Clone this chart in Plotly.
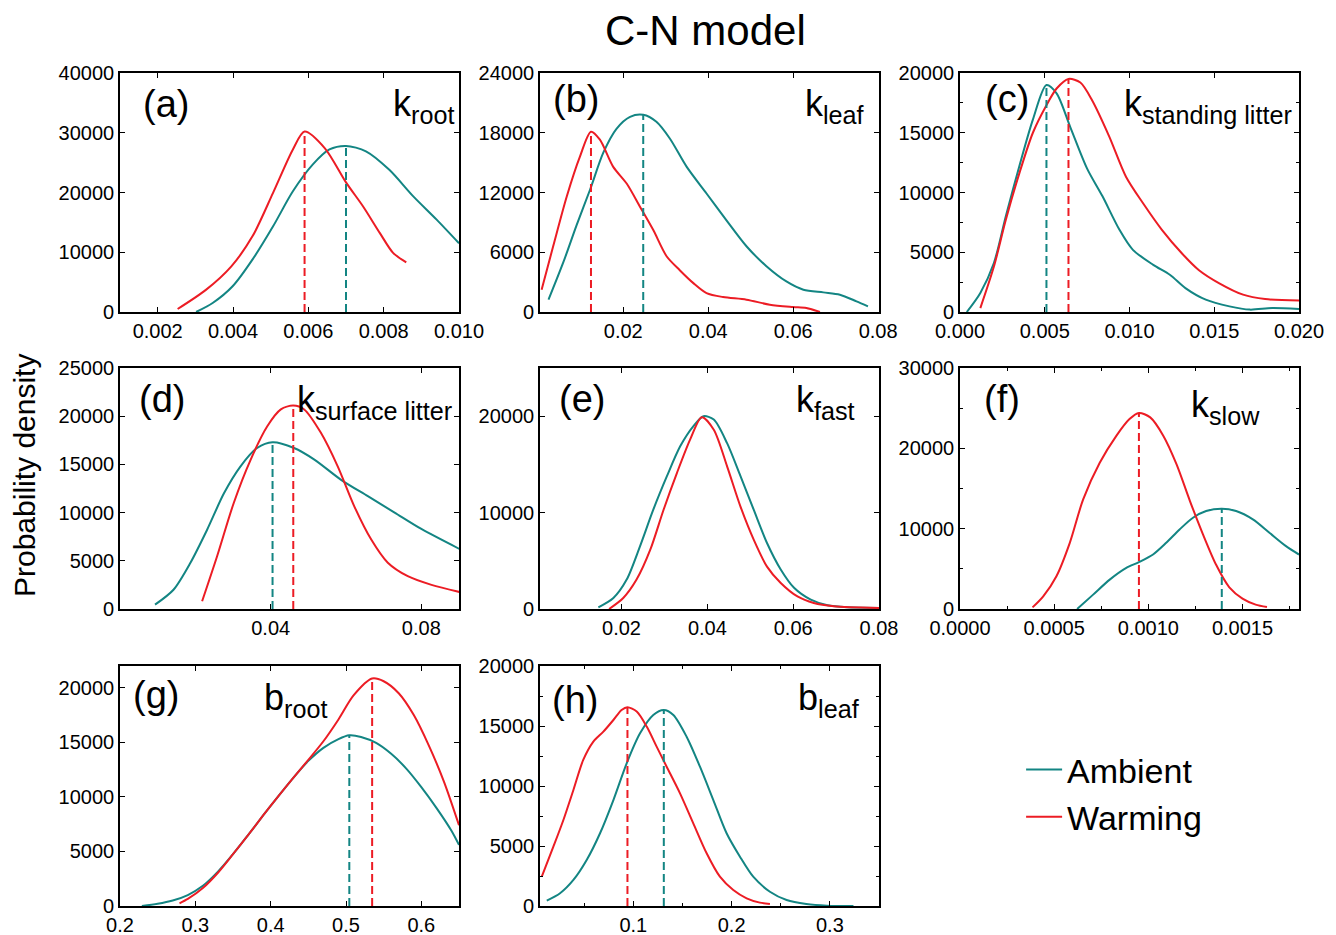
import plotly.graph_objects as go

# ---------------------------------------------------------------- data
series_names = ["Ambient", "Warming"]

# (a) k_root
kroot_amb_x = [0.00302, 0.00346, 0.00399, 0.00452, 0.00506, 0.00559, 0.00612, 0.00656, 0.0070,
               0.00753, 0.00815, 0.00878, 0.0094, 0.0100]
kroot_amb_y = [0, 1500, 4300, 8800, 14300, 20200, 24700, 27200, 27800, 26900, 23800, 19400, 15500, 11500]
kroot_warm_x = [0.00253, 0.00328, 0.00395, 0.00452, 0.00506, 0.00559, 0.0059, 0.00644, 0.0070,
                0.00745, 0.0079, 0.00825, 0.0086]
kroot_warm_y = [500, 3700, 7600, 12700, 19900, 27200, 30200, 27400, 21700, 17700, 13200, 9900, 8300]
kroot_modes_x = [0.0070, 0.0059]
kroot_modes_y = [27800, 30200]

# (b) k_leaf
kleaf_amb_x = [0.0024, 0.0059, 0.009, 0.0122, 0.0153, 0.0184, 0.0216, 0.0247, 0.0278, 0.031, 0.0349,
               0.0396, 0.0443, 0.049, 0.0537, 0.0584, 0.0624, 0.0671, 0.071, 0.0749, 0.0776]
kleaf_amb_y = [1240, 5000, 8700, 12300, 16000, 18400, 19600, 19800, 19100, 17400, 14600, 11900, 9200,
               6600, 4600, 3070, 2240, 1970, 1740, 1070, 570]
kleaf_warm_x = [0.00078, 0.0035, 0.0067, 0.0098, 0.0124, 0.0145, 0.0176, 0.0208, 0.0239, 0.0271, 0.0302,
                0.0333, 0.0365, 0.0396, 0.0435, 0.049, 0.0545, 0.06, 0.0631, 0.0663]
kleaf_warm_y = [2240, 6600, 11600, 15600, 18100, 17300, 14600, 12900, 10600, 8200, 5600, 4200, 2900,
                1900, 1500, 1240, 730, 500, 400, 0]
kleaf_modes_x = [0.0247, 0.0124]
kleaf_modes_y = [19800, 18100]

# (c) k_standing litter
kstand_amb_x = [0.0004, 0.0012, 0.002, 0.0027, 0.0035, 0.0043, 0.0051, 0.0057, 0.0065, 0.0075, 0.0084,
                0.0094, 0.0102, 0.0114, 0.0124, 0.0133, 0.0145, 0.0159, 0.0171, 0.0184, 0.02]
kstand_amb_y = [0, 1600, 4100, 8000, 12200, 16100, 19000, 18300, 15500, 12000, 9700, 6900, 5200, 3950,
                3100, 2000, 1030, 470, 200, 330, 250]
kstand_warm_x = [0.0012, 0.002, 0.0027, 0.0035, 0.0043, 0.0051, 0.0057, 0.0064, 0.0071, 0.0078, 0.0088,
                 0.0098, 0.0108, 0.0119, 0.0131, 0.0141, 0.0153, 0.0167, 0.018, 0.02]
kstand_warm_y = [330, 3800, 7700, 11600, 15000, 17300, 18700, 19500, 19200, 17700, 14700, 11300, 9100,
                 6900, 4900, 3500, 2400, 1450, 1080, 970]
kstand_modes_x = [0.0051, 0.0064]
kstand_modes_y = [19000, 19500]

# (d) k_surface litter
ksurf_amb_x = [0.0093, 0.0142, 0.0187, 0.0231, 0.0276, 0.032, 0.0364, 0.0405, 0.0462, 0.0516, 0.0587,
               0.0658, 0.0729, 0.08, 0.0905]
ksurf_amb_y = [450, 2000, 4800, 8200, 12000, 14800, 16700, 17300, 16700, 15500, 13400, 11700, 10000,
               8300, 6150]
ksurf_warm_x = [0.0218, 0.0258, 0.0302, 0.0347, 0.0391, 0.0427, 0.046, 0.0489, 0.0533, 0.0578, 0.0622,
                0.0667, 0.0711, 0.0764, 0.0827, 0.0905]
ksurf_warm_y = [800, 5500, 11000, 15500, 18950, 20700, 21100, 20700, 18300, 14800, 10650, 7200, 4800,
                3400, 2500, 1730]
ksurf_modes_x = [0.0405, 0.046]
ksurf_modes_y = [17300, 21100]

# (e) k_fast
kfast_amb_x = [0.0146, 0.0181, 0.0212, 0.0243, 0.0274, 0.0306, 0.0337, 0.0368, 0.0391, 0.0415, 0.0446,
               0.0477, 0.0508, 0.0539, 0.0571, 0.0602, 0.0641, 0.068, 0.0726, 0.08]
kfast_amb_y = [170, 1140, 3050, 6500, 10300, 13800, 16900, 19000, 20000, 19650, 17200, 13800, 10300,
               6850, 4100, 2200, 970, 380, 170, 100]
kfast_warm_x = [0.0171, 0.0204, 0.0235, 0.0267, 0.0298, 0.0329, 0.036, 0.0387, 0.0415, 0.0446, 0.0477,
                0.0508, 0.0539, 0.0571, 0.061, 0.0648, 0.0695, 0.08]
kfast_warm_y = [0, 1140, 3050, 6150, 10300, 14100, 17600, 19900, 18600, 14800, 10650, 7200, 4400, 2700,
                1300, 620, 280, 100]
kfast_modes_x = []
kfast_modes_y = []

# (f) k_slow
kslow_amb_x = [0.000622, 0.000707, 0.000795, 0.000883, 0.00095, 0.001025, 0.001095, 0.001166, 0.001237,
               0.001307, 0.00139, 0.001466, 0.001555, 0.001643, 0.001731, 0.0018]
kslow_amb_y = [0, 1790, 3660, 5120, 5830, 6780, 8240, 9900, 11360, 12190, 12480, 12190, 11150, 9490,
               7820, 6780]
kslow_warm_x = [0.000385, 0.000442, 0.000512, 0.000583, 0.000654, 0.000742, 0.00083, 0.0009, 0.00095,
                0.00101, 0.00108, 0.00115, 0.00122, 0.00129, 0.00136, 0.00143, 0.0015, 0.00157, 0.00163]
kslow_warm_y = [200, 1580, 4080, 8240, 13650, 18200, 21550, 23640, 24400, 23850, 21550, 18000, 13500,
                9300, 5500, 2700, 1300, 550, 250]
kslow_modes_x = [0.00139, 0.00095]
kslow_modes_y = [12480, 24400]

# (g) b_root
broot_amb_x = [0.229, 0.25, 0.27, 0.29, 0.31, 0.33, 0.35, 0.37, 0.39, 0.41, 0.43, 0.45, 0.47, 0.49,
               0.5044, 0.52, 0.54, 0.56, 0.58, 0.60, 0.62, 0.64, 0.65]
broot_amb_y = [0, 200, 500, 1000, 1850, 3150, 4750, 6500, 8300, 10050, 11750, 13300, 14500, 15300,
               15650, 15500, 14950, 13950, 12600, 10900, 9000, 6900, 5600]
broot_warm_x = [0.279, 0.29, 0.31, 0.33, 0.35, 0.37, 0.39, 0.41, 0.43, 0.45, 0.47, 0.49, 0.51, 0.5347,
                0.55, 0.57, 0.59, 0.61, 0.63, 0.65]
broot_warm_y = [245, 650, 1650, 3050, 4750, 6500, 8300, 10050, 11750, 13400, 15100, 17100, 19300, 20850,
                20600, 19500, 17500, 14700, 11400, 7400]
broot_modes_x = [0.5044, 0.5347]
broot_modes_y = [15650, 20850]

# (h) b_leaf
bleaf_amb_x = [0.0119, 0.0254, 0.039, 0.0525, 0.0661, 0.0797, 0.0932, 0.1068, 0.1203, 0.131, 0.1407,
               0.1542, 0.1678, 0.1814, 0.1949, 0.2085, 0.222, 0.239, 0.256, 0.276, 0.297, 0.324]
bleaf_amb_y = [440, 1060, 2170, 3830, 6060, 8830, 11890, 14390, 15920, 16330, 15920, 14110, 11610, 8830,
               6060, 4110, 2440, 1190, 500, 170, 30, 0]
bleaf_warm_x = [0.0068, 0.0186, 0.0288, 0.039, 0.049, 0.0593, 0.0695, 0.0797, 0.088, 0.094, 0.1034,
                0.1136, 0.1237, 0.1339, 0.1475, 0.161, 0.1746, 0.1881, 0.2017, 0.2153, 0.2288, 0.239]
bleaf_warm_y = [2440, 4940, 7170, 9670, 12170, 13700, 14530, 15500, 16330, 16560, 16200, 14950, 13280,
                11610, 9390, 6890, 4390, 2440, 1330, 640, 280, 170]
bleaf_modes_x = [0.131, 0.094]
bleaf_modes_y = [16330, 16560]

panel_tags = ["(a)", "(b)", "(c)", "(d)", "(e)", "(f)", "(g)", "(h)"]
parameter_names = ["k<sub>root</sub>", "k<sub>leaf</sub>", "k<sub>standing litter</sub>",
                   "k<sub>surface litter</sub>", "k<sub>fast</sub>", "k<sub>slow</sub>",
                   "b<sub>root</sub>", "b<sub>leaf</sub>"]

# x tick values / labels and y ranges / ticks for each panel
x_ticks = [
    [0.002, 0.004, 0.006, 0.008, 0.010],
    [0.02, 0.04, 0.06, 0.08],
    [0.000, 0.005, 0.010, 0.015, 0.020],
    [0.04, 0.08],
    [0.02, 0.04, 0.06, 0.08],
    [0.0000, 0.0005, 0.0010, 0.0015],
    [0.2, 0.3, 0.4, 0.5, 0.6],
    [0.1, 0.2, 0.3],
]
x_tick_text = [
    ["0.002", "0.004", "0.006", "0.008", "0.010"],
    ["0.02", "0.04", "0.06", "0.08"],
    ["0.000", "0.005", "0.010", "0.015", "0.020"],
    ["0.04", "0.08"],
    ["0.02", "0.04", "0.06", "0.08"],
    ["0.0000", "0.0005", "0.0010", "0.0015"],
    ["0.2", "0.3", "0.4", "0.5", "0.6"],
    ["0.1", "0.2", "0.3"],
]
x_ranges = [[0.001, 0.010], [0.0004, 0.0802], [0.0, 0.020], [0.0, 0.09],
            [0.001, 0.080], [0.0, 0.0018], [0.2, 0.65], [0.005, 0.35]]
y_ranges = [[0, 40000], [0, 24000], [0, 20000], [0, 25000],
            [0, 25000], [0, 30000], [0, 22000], [0, 20000]]
y_dticks = [10000, 6000, 5000, 5000, 10000, 10000, 5000, 5000]

series = [
    (kroot_amb_x, kroot_amb_y, kroot_warm_x, kroot_warm_y, kroot_modes_x, kroot_modes_y),
    (kleaf_amb_x, kleaf_amb_y, kleaf_warm_x, kleaf_warm_y, kleaf_modes_x, kleaf_modes_y),
    (kstand_amb_x, kstand_amb_y, kstand_warm_x, kstand_warm_y, kstand_modes_x, kstand_modes_y),
    (ksurf_amb_x, ksurf_amb_y, ksurf_warm_x, ksurf_warm_y, ksurf_modes_x, ksurf_modes_y),
    (kfast_amb_x, kfast_amb_y, kfast_warm_x, kfast_warm_y, kfast_modes_x, kfast_modes_y),
    (kslow_amb_x, kslow_amb_y, kslow_warm_x, kslow_warm_y, kslow_modes_x, kslow_modes_y),
    (broot_amb_x, broot_amb_y, broot_warm_x, broot_warm_y, broot_modes_x, broot_modes_y),
    (bleaf_amb_x, bleaf_amb_y, bleaf_warm_x, bleaf_warm_y, bleaf_modes_x, bleaf_modes_y),
]

# ---------------------------------------------------------------- styling
FONT = "Liberation Sans, Arial, Helvetica, sans-serif"
TEAL = "#138583"
RED = "#ec1c24"
W, H = 1336, 935

# pixel boxes of the plotting areas (left, right) and (top, bottom)
col_px = [(120, 459), (540, 879), (960, 1299)]
row_px = [(73, 312), (368, 609), (666, 906)]

# minor tick settings per panel (None = no minor ticks)
x_minor = [None, None, None, None, None, 0.00025, None, 0.05]
y_minor = [None, None, 2500, None, None, 5000, None, 2500]

# label placement in axis-domain coordinates
tag_pos = [(0.062, 0.87), (0.032, 0.89), (0.068, 0.89), (0.05, 0.87),
           (0.05, 0.87), (0.065, 0.87), (0.032, 0.88), (0.03, 0.86)]
name_pos = [(0.99, 0.86, "right"), (0.965, 0.86, "right"), (0.985, 0.86, "right"),
            (0.985, 0.86, "right"), (0.935, 0.86, "right"), (0.89, 0.84, "right"),
            (0.42, 0.86, "left"), (0.95, 0.86, "right")]

fig = go.Figure()
layout = dict(
    width=W, height=H,
    margin=dict(l=0, r=0, t=0, b=0),
    paper_bgcolor="white", plot_bgcolor="white",
    font=dict(family=FONT, color="black"),
    showlegend=True,
    legend=dict(x=0.7643, y=0.2076, xanchor="left", yanchor="top",
                font=dict(family=FONT, size=34, color="black"),
                bgcolor="rgba(0,0,0,0)", itemwidth=36, tracegroupgap=0),
)
annotations = []

for i in range(8):
    r, c = divmod(i, 3)
    n = i + 1
    xa = "xaxis" if n == 1 else f"xaxis{n}"
    ya = "yaxis" if n == 1 else f"yaxis{n}"
    xr = "x" if n == 1 else f"x{n}"
    yr = "y" if n == 1 else f"y{n}"
    x0, x1 = col_px[c]
    t0, t1 = row_px[r]

    common = dict(showline=True, linecolor="black", linewidth=1.6, mirror="allticks",
                  ticks="inside", ticklen=5, tickwidth=1.3, tickcolor="black",
                  showgrid=False, zeroline=False, automargin=False,
                  tickfont=dict(family=FONT, size=20, color="black"))
    xaxis = dict(common, domain=[x0 / W, x1 / W], anchor=yr, range=x_ranges[i],
                 tickmode="array", tickvals=x_ticks[i], ticktext=x_tick_text[i])
    if x_minor[i]:
        xaxis["minor"] = dict(dtick=x_minor[i], tick0=0, ticks="inside", ticklen=3,
                              tickwidth=1.2, tickcolor="black", showgrid=False)
    yaxis = dict(common, domain=[1 - t1 / H, 1 - t0 / H], anchor=xr, range=y_ranges[i],
                 tick0=0, dtick=y_dticks[i], tickformat="d")
    if y_minor[i]:
        yaxis["minor"] = dict(dtick=y_minor[i], tick0=0, ticks="inside", ticklen=3,
                              tickwidth=1.2, tickcolor="black", showgrid=False)
    layout[xa] = xaxis
    layout[ya] = yaxis

    ax, ay, wx, wy, mx, my = series[i]
    fig.add_trace(go.Scatter(x=ax, y=ay, mode="lines", name=series_names[0],
                             line=dict(color=TEAL, width=2, shape="spline", smoothing=0.8),
                             xaxis=xr, yaxis=yr, legendgroup="amb", showlegend=(i == 0),
                             cliponaxis=True))
    fig.add_trace(go.Scatter(x=wx, y=wy, mode="lines", name=series_names[1],
                             line=dict(color=RED, width=2, shape="spline", smoothing=0.8),
                             xaxis=xr, yaxis=yr, legendgroup="warm", showlegend=(i == 0),
                             cliponaxis=True))
    # vertical dashed lines at the modes of each distribution
    for j, (xm, ym) in enumerate(zip(mx, my)):
        col = TEAL if j == 0 else RED
        fig.add_trace(go.Scatter(x=[xm, xm], y=[0, ym], mode="lines",
                                 line=dict(color=col, width=2, dash="8px,4px"),
                                 xaxis=xr, yaxis=yr, showlegend=False, hoverinfo="skip"))

    tx, ty = tag_pos[i]
    annotations.append(dict(text=panel_tags[i], xref=f"{xr} domain", yref=f"{yr} domain",
                            x=tx, y=ty, xanchor="left", yanchor="middle", showarrow=False,
                            font=dict(family=FONT, size=38, color="black")))
    nx, ny, anc = name_pos[i]
    annotations.append(dict(text=parameter_names[i], xref=f"{xr} domain", yref=f"{yr} domain",
                            x=nx, y=ny, xanchor=anc, yanchor="middle", showarrow=False,
                            font=dict(family=FONT, size=36, color="black")))

annotations.append(dict(text="C-N model", xref="paper", yref="paper", x=705 / W, y=1 - 30 / H,
                        xanchor="center", yanchor="middle", showarrow=False,
                        font=dict(family=FONT, size=42, color="black")))
annotations.append(dict(text="Probability density", xref="paper", yref="paper", x=25 / W,
                        y=1 - 476 / H, xanchor="center", yanchor="middle", textangle=-90,
                        showarrow=False, font=dict(family=FONT, size=30, color="black")))
layout["annotations"] = annotations

fig.update_layout(**layout)
fig.write_html("out.html")
